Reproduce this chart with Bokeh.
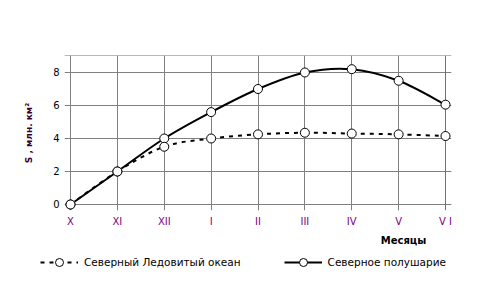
from bokeh.plotting import figure
from bokeh.layouts import column
from bokeh.models import (FixedTicker, Legend, LegendItem, ColumnDataSource,
                          Grid, Label)
from bokeh.embed import file_html
from bokeh.resources import INLINE

months = ["X", "XI", "XII", "I", "II", "III", "IV", "V", "V I"]
arctic = [0.0, 2.0, 3.5, 4.0, 4.25, 4.35, 4.3, 4.25, 4.15]
hemisphere = [0.0, 2.0, 4.0, 5.6, 7.0, 8.0, 8.2, 7.5, 6.05]
y_ticks = [0, 2, 4, 6, 8]
y_max = 9
arctic_name = "Северный Ледовитый океан"
hemi_name = "Северное полушарие"
x_title = "Месяцы"
y_title = "S , млн. км²"

xs = list(range(len(months)))
x_last = xs[-1]

FONT = "DejaVu Sans"
XPAD = 0.128
YPAD = 0.364
W = 491
H_TOP = 234
H_BOT = 57

# ---------------- main chart ----------------
p = figure(width=W, height=H_TOP, output_backend="svg", toolbar_location=None,
           x_range=(-XPAD, x_last + XPAD), y_range=(-YPAD, y_max + 0.03),
           min_border_left=64, min_border_right=40, min_border_top=55,
           min_border_bottom=24)
p.frame_align = False
p.background_fill_color = "white"
p.border_fill_color = "white"
p.outline_line_color = None

p.xaxis.ticker = FixedTicker(ticks=xs)
p.xaxis.major_label_overrides = {i: m for i, m in enumerate(months)}
p.yaxis.ticker = FixedTicker(ticks=y_ticks)
for ax in (p.xaxis, p.yaxis):
    ax.axis_line_color = None
    ax.major_tick_in = 0
    ax.major_tick_out = 0
    ax.minor_tick_line_color = None
    ax.major_label_text_font = FONT
    ax.major_label_text_font_size = "10px"
p.xaxis.major_label_text_color = "#800080"
p.xaxis.major_label_standoff = 5
p.yaxis.major_label_text_color = "black"
p.yaxis.major_label_standoff = 5
p.yaxis.axis_label = y_title
p.yaxis.axis_label_text_font = FONT
p.yaxis.axis_label_text_font_size = "9px"
p.yaxis.axis_label_text_font_style = "bold"
p.yaxis.axis_label_text_color = "#330033"
p.yaxis.axis_label_standoff = 16

# gray grid (includes the left/bottom edges of the plot box)
p.xgrid.ticker = FixedTicker(ticks=xs[:-1])
p.ygrid.ticker = FixedTicker(ticks=y_ticks)
p.xgrid.bounds = (0, y_max)
p.ygrid.bounds = (0, x_last)
p.xgrid.grid_line_color = "#808080"
p.ygrid.grid_line_color = "#808080"
# olive right/top edges of the plot box
p.add_layout(Grid(dimension=0, ticker=FixedTicker(ticks=[x_last]),
                  bounds=(0, y_max), grid_line_color="#808000"))
p.add_layout(Grid(dimension=1, ticker=FixedTicker(ticks=[y_max]),
                  bounds=(0, x_last), grid_line_color="#808000"))


def smooth(ys):
    n = len(ys)
    d = dict(x0=[], y0=[], x1=[], y1=[], cx0=[], cy0=[], cx1=[], cy1=[])
    for i in range(n - 1):
        a = max(i - 1, 0)
        b = min(i + 2, n - 1)
        d["x0"].append(xs[i]); d["y0"].append(ys[i])
        d["x1"].append(xs[i + 1]); d["y1"].append(ys[i + 1])
        d["cx0"].append(xs[i] + (xs[i + 1] - xs[a]) / 6)
        d["cy0"].append(ys[i] + (ys[i + 1] - ys[a]) / 6)
        d["cx1"].append(xs[i + 1] - (xs[b] - xs[i]) / 6)
        d["cy1"].append(ys[i + 1] - (ys[b] - ys[i]) / 6)
    return ColumnDataSource(d)


p.bezier(x0="x0", y0="y0", x1="x1", y1="y1", cx0="cx0", cy0="cy0",
         cx1="cx1", cy1="cy1", source=smooth(hemisphere),
         line_color="black", line_width=2)
p.bezier(x0="x0", y0="y0", x1="x1", y1="y1", cx0="cx0", cy0="cy0",
         cx1="cx1", cy1="cy1", source=smooth(arctic),
         line_color="black", line_width=2, line_dash="4 5")

p.scatter(xs, hemisphere, size=9, marker="circle",
          fill_color="white", line_color="black", line_width=1)
p.scatter(xs, arctic, size=9, marker="circle",
          fill_color="white", line_color="black", line_width=1)

# ---------------- strip below: axis title + legend ----------------
q = figure(width=W, height=H_BOT, output_backend="svg", toolbar_location=None,
           x_range=(0, W), y_range=(0, H_BOT), x_axis_type=None,
           y_axis_type=None, min_border=0)
q.frame_align = False
q.outline_line_color = None
q.background_fill_color = "white"
q.border_fill_color = "white"
q.grid.visible = False

l_arc = q.line(xs, arctic, line_color="black", line_width=2, line_dash="4 5")
c_arc = q.scatter(xs, arctic, size=9, marker="circle",
                  fill_color="white", line_color="black", line_width=1)
l_hemi = q.line(xs, hemisphere, line_color="black", line_width=2)
c_hemi = q.scatter(xs, hemisphere, size=9, marker="circle",
                   fill_color="white", line_color="black", line_width=1)
for r in (l_arc, c_arc, l_hemi, c_hemi):
    r.visible = False

q.add_layout(Label(x=403, y=51, text=x_title, text_font=FONT,
                   text_font_size="10px", text_font_style="bold",
                   text_color="black", text_align="center",
                   text_baseline="middle"))

legend = Legend(items=[LegendItem(label=arctic_name, renderers=[l_arc, c_arc]),
                       LegendItem(label=hemi_name, renderers=[l_hemi, c_hemi])],
                orientation="horizontal", location=(40, 19),
                border_line_alpha=0, background_fill_alpha=0,
                inactive_fill_alpha=0, click_policy="none",
                label_text_font=FONT, label_text_font_size="10.5px",
                label_text_color="black",
                glyph_width=38, glyph_height=20, spacing=43, padding=0,
                margin=0, label_standoff=6, label_height=12)
q.add_layout(legend)

layout = column(p, q, spacing=0)
open("out.html", "w").write(file_html(layout, INLINE))
